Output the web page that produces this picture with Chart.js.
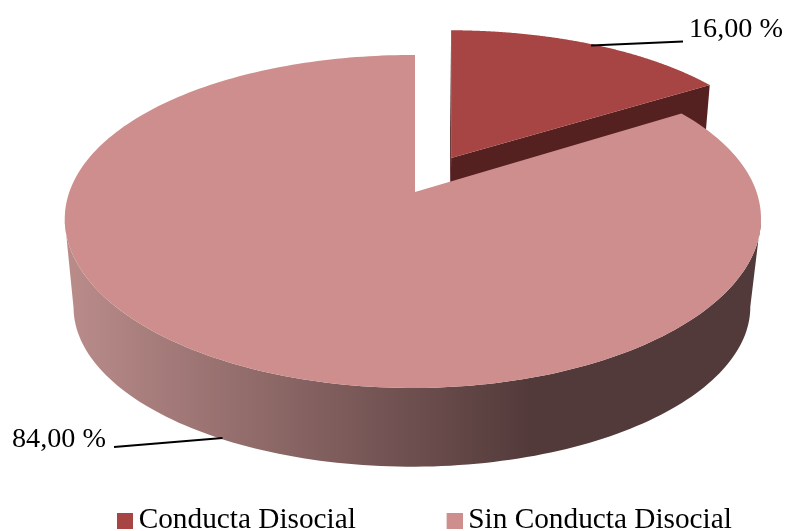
<!DOCTYPE html>
<html>
<head>
<meta charset="utf-8">
<style>html,body{margin:0;padding:0;background:#fff}#wrap{width:786px;height:531px}</style>
<script src="https://cdn.jsdelivr.net/npm/chart.js@4"></script>
</head>
<body>
<div id="wrap"><canvas id="c" width="786" height="531"></canvas></div>
<script>
const categories = ['Conducta Disocial', 'Sin Conducta Disocial'];
const percentages = [16, 84];
const sliceColors = ['#a64543', '#ce8e8d'];
const sliceSideColors = ['#552120', '#533a3a'];
const explodeFractions = [0.25, 0];
const labelFont = '28.2px "Liberation Serif"';

// Perspective view of the pie's top and bottom discs
const TOP = {x0: 415, y0: 192, a: 343.6, c: 161.3};
const BOT = {x0: 414, y0: 282, a: 334, c: 152};
const K = 0.177, J = 0.006, TWIST = 6, EXPLODE_X = 300;
function project(d, p) {
  const u = p[0], v = p[1], w = 1 + K * v + J * u;
  return [d.x0 + d.a * u / w + TWIST * u * v + (p[2] || 0), d.y0 - d.c * v / w];
}
function swatch(color) {
  const s = document.createElement('canvas');
  s.width = 19; s.height = 16;
  const g = s.getContext('2d');
  g.fillStyle = color; g.fillRect(3, 0, 16, 16);
  return s;
}
function poly(ctx, pts, fill) {
  ctx.beginPath();
  pts.forEach((p, i) => i ? ctx.lineTo(p[0], p[1]) : ctx.moveTo(p[0], p[1]));
  ctx.closePath();
  ctx.fillStyle = fill;
  ctx.fill();
}
function extremeIndex(pts, pick) {
  let best = 0;
  pts.forEach((p, i) => { if (pick(p[0], pts[best][0])) best = i; });
  return best;
}
const pie3d = {
  id: 'pie3d',
  beforeDraw(chart) {
    const lg = chart.legend;
    const pad = lg.options.labels.padding;
    lg.top = 506 - pad;
    lg.bottom = 531;
    lg.left = 123 - pad;
    lg.right = 2000;
  },
  beforeDatasetsDraw(chart) {
    const ctx = chart.ctx;
    const arcs = chart.getDatasetMeta(0).data;
    ctx.save();
    [0, 1].forEach(i => {
      const el = arcs[i];
      const d = explodeFractions[i];
      const mid = (el.startAngle + el.endAngle) / 2;
      const sx = d * Math.cos(mid) * EXPLODE_X, oy = -d * Math.sin(mid);
      const n = 240, ring = [];
      for (let s = 0; s <= n; s++) {
        const t = el.startAngle + (el.endAngle - el.startAngle) * s / n;
        ring.push([Math.cos(t), oy - Math.sin(t), sx]);
      }
      const apex = [0, oy, sx];
      if (d > 0) {
        // the exploded slice shows only its cut faces
        [ring[0], ring[n]].forEach(e => {
          poly(ctx, [project(TOP, apex), project(TOP, e), project(BOT, e), project(BOT, apex)], sliceSideColors[i]);
        });
      } else {
        // outer wall: from the rightmost to the leftmost point of the rim, along the front
        const t = ring.map(p => project(TOP, p));
        const b = ring.map(p => project(BOT, p));
        const tr = extremeIndex(t, (x, y) => x > y), tl = extremeIndex(t, (x, y) => x < y);
        const br = extremeIndex(b, (x, y) => x > y), bl = extremeIndex(b, (x, y) => x < y);
        const g = ctx.createLinearGradient(75, 0, 530, 0);
        g.addColorStop(0, '#b88b89');
        g.addColorStop(1, sliceSideColors[i]);
        poly(ctx, t.slice(tr, tl + 1).concat(b.slice(br, bl + 1).reverse()), g);
      }
      // top surface
      poly(ctx, [project(TOP, apex)].concat(ring.map(p => project(TOP, p))), sliceColors[i]);
    });
    // leader lines and value labels
    const fmt = v => v.toFixed(2).replace('.', ',') + ' %';
    const leaders = [
      {line: [[591, 45.5], [683, 41.5]], text: [689, 37]},
      {line: [[222.5, 438], [114, 447]], text: [12, 447]}
    ];
    ctx.strokeStyle = '#000'; ctx.lineWidth = 2;
    ctx.fillStyle = '#000'; ctx.font = labelFont;
    ctx.textAlign = 'left'; ctx.textBaseline = 'alphabetic';
    leaders.forEach((l, i) => {
      ctx.beginPath();
      ctx.moveTo(l.line[0][0], l.line[0][1]);
      ctx.lineTo(l.line[1][0], l.line[1][1]);
      ctx.stroke();
      ctx.fillText(fmt(percentages[i]), l.text[0], l.text[1]);
    });
    ctx.restore();
    return false;
  }
};
new Chart(document.getElementById('c'), {
  type: 'pie',
  data: {
    labels: categories,
    datasets: [{data: percentages, backgroundColor: sliceColors, borderWidth: 0}]
  },
  options: {
    responsive: false,
    animation: false,
    plugins: {
      tooltip: {enabled: false},
      legend: {
        position: 'bottom',
        align: 'start',
        labels: {
          usePointStyle: true,
          pointStyleWidth: 1,
          padding: 96.7,
          color: '#000',
          font: {family: 'Liberation Serif', size: 29.3},
          generateLabels(chart) {
            return categories.map((name, i) => ({
              text: name, index: i, fontColor: '#000', lineWidth: 0,
              pointStyle: swatch(sliceColors[i]), hidden: false
            }));
          }
        }
      }
    }
  },
  plugins: [pie3d]
});
</script>
</body>
</html>
